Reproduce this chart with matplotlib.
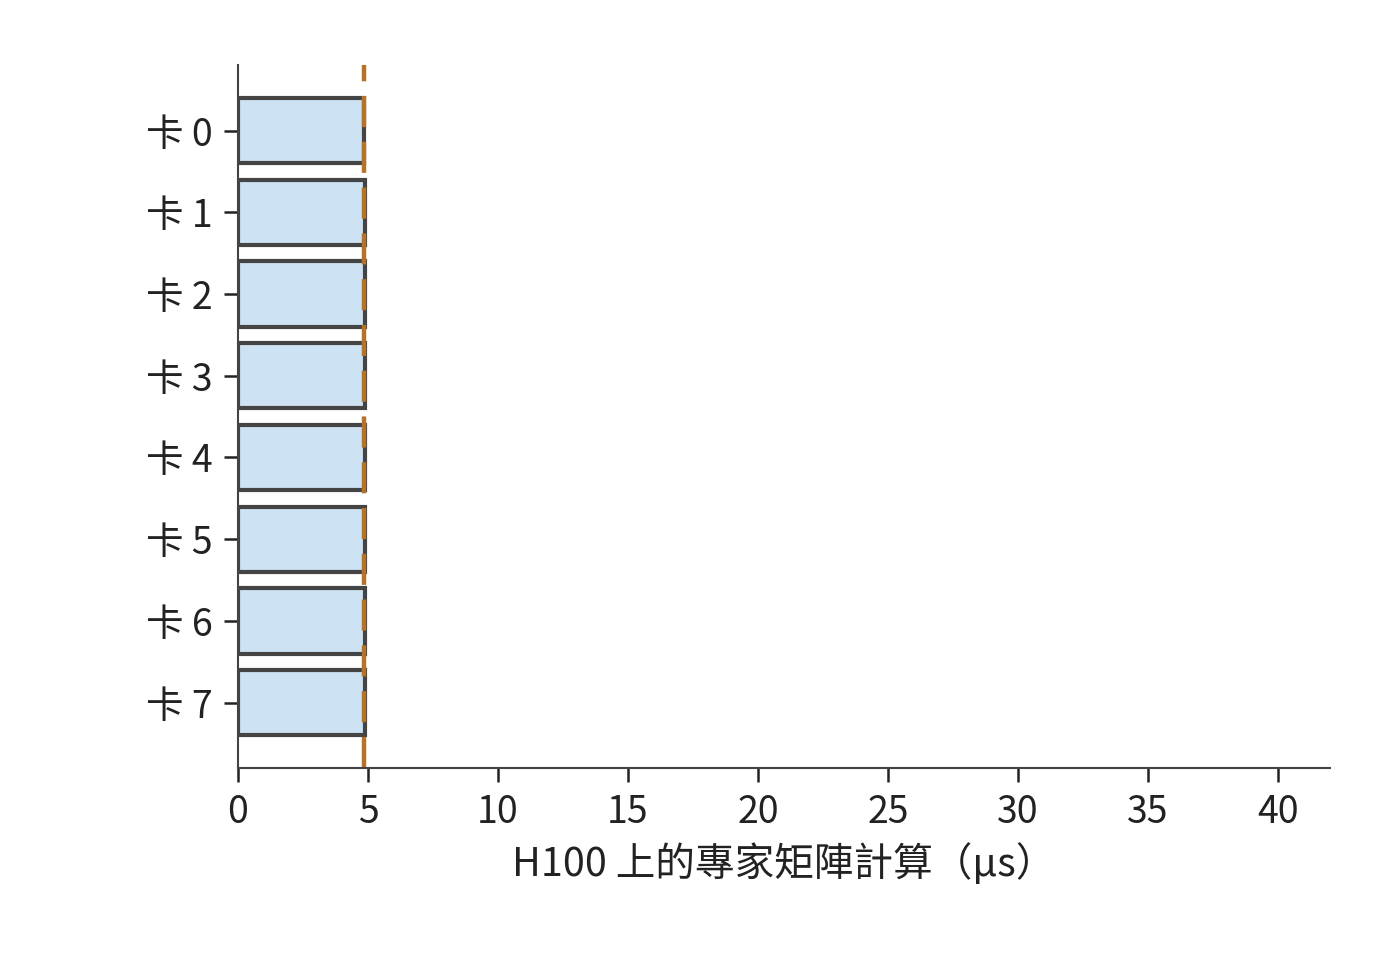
import matplotlib
matplotlib.use("Agg")
import matplotlib.pyplot as plt
import numpy as np

plt.rcParams['font.family'] = ['Noto Sans CJK TC', 'DejaVu Sans']

cards = ['卡 0', '卡 1', '卡 2', '卡 3', '卡 4', '卡 5', '卡 6', '卡 7']
compute_us = [4.86, 4.87, 4.87, 4.9, 4.9, 4.9, 4.9, 4.87]
mark_us = 4.85
xticks = [0, 5, 10, 15, 20, 25, 30, 35, 40]

fig = plt.figure(figsize=(14, 9.6), dpi=100)
ax = fig.add_axes([0.17, 0.2, 0.78, 0.732])

y = np.arange(len(cards))
ax.barh(y, compute_us, height=0.8, color='#cde3f3', edgecolor='#444444', linewidth=3)
ax.axvline(mark_us, color='#b5732a', linestyle=(0, (7, 3.3)), linewidth=3.2)

ax.set_yticks(y)
ax.set_yticklabels(cards)
ax.set_ylim(7.8, -0.8)
ax.set_xlim(0, 42)
ax.set_xticks(xticks)
ax.set_xlabel('H100 上的專家矩陣計算（μs）', fontsize=28.5, color='#222222', labelpad=8)

for s in ['top', 'right']:
    ax.spines[s].set_visible(False)
for s in ['left', 'bottom']:
    ax.spines[s].set_color('#444444')
    ax.spines[s].set_linewidth(1.5)
ax.tick_params(axis='both', labelsize=27, colors='#222222', length=10, width=1.8, pad=8)

fig.savefig('out.png', dpi=100)
